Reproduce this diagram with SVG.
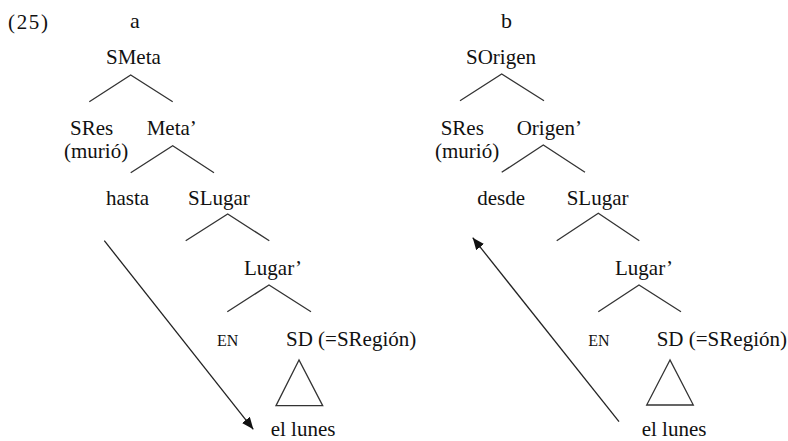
<svg xmlns="http://www.w3.org/2000/svg" width="788" height="441" viewBox="0 0 788 441">
<defs>
<style>
text{font-size:21px;fill:#111}
.lbl{font-size:22px}
.sm{font-size:16px}
.br{stroke:#333;stroke-width:1.3;fill:none}
.arr{stroke:#222;stroke-width:1.3;fill:none;marker-end:url(#ah)}
</style>
<marker id="ah" viewBox="0 0 12 10" refX="12" refY="5" markerWidth="12" markerHeight="10" markerUnits="userSpaceOnUse" orient="auto">
<path d="M0,0 L12,5 L0,10 Z" fill="#111"/>
</marker>
</defs>
<rect width="788" height="441" fill="#fff"/>
<g font-family="'Liberation Serif', 'Times New Roman', Times, serif">
<g id="labels">
<text x="8" y="29" textLength="40">(25)</text>
<text class="lbl" x="130" y="28">a</text>
<text class="lbl" x="501" y="28">b</text>
</g>
<g id="connectors">
<polyline class="br" points="89.3,101.7 130.7,75 172.7,101.7"/>
<polyline class="br" points="130.7,172.7 172.7,145.7 214,172.7"/>
<polyline class="br" points="185.7,240.7 227.7,214 269.3,240.7"/>
<polyline class="br" points="227.3,311.7 269,285 311,311.7"/>
<polygon class="br" points="299,360 276,405.7 322.7,405.7"/>
<line class="arr" x1="104.3" y1="240.7" x2="253.3" y2="429.3"/>
<polyline class="br" points="460,100.7 501.7,74 544,100.7"/>
<polyline class="br" points="501.7,172.3 543.3,145 585,172.3"/>
<polyline class="br" points="556.7,240.7 598.3,213.3 639.3,240.7"/>
<polyline class="br" points="598.3,311.7 639,285 681,311.7"/>
<polygon class="br" points="670,360 646.7,405 693.3,405"/>
<line class="arr" x1="619" y1="421.7" x2="472.7" y2="237.7"/>
</g>
<g id="a-SMeta"><text x="106" y="64">SMeta</text></g>
<g id="a-SRes"><text x="70" y="135">SRes</text><text x="64" y="158">(murió)</text></g>
<g id="a-Meta1"><text x="146.7" y="135">Meta’</text></g>
<g id="a-hasta"><text x="106" y="205">hasta</text></g>
<g id="a-SLugar"><text x="188" y="205">SLugar</text></g>
<g id="a-Lugar1"><text x="244" y="275">Lugar’</text></g>
<g id="a-EN"><text class="sm" x="217" y="346">EN</text></g>
<g id="a-SD"><text x="286" y="346">SD (=SRegión)</text></g>
<g id="a-ellunes"><text x="270.7" y="436">el lunes</text></g>
<g id="b-SOrigen"><text x="466" y="64">SOrigen</text></g>
<g id="b-SRes"><text x="440.7" y="135">SRes</text><text x="435" y="158">(murió)</text></g>
<g id="b-Origen1"><text x="516.7" y="135">Origen’</text></g>
<g id="b-desde"><text x="477.3" y="205">desde</text></g>
<g id="b-SLugar"><text x="566.7" y="205">SLugar</text></g>
<g id="b-Lugar1"><text x="615" y="275">Lugar’</text></g>
<g id="b-EN"><text class="sm" x="588.3" y="346">EN</text></g>
<g id="b-SD"><text x="656.7" y="346">SD (=SRegión)</text></g>
<g id="b-ellunes"><text x="641.7" y="436">el lunes</text></g>
</g>
</svg>
